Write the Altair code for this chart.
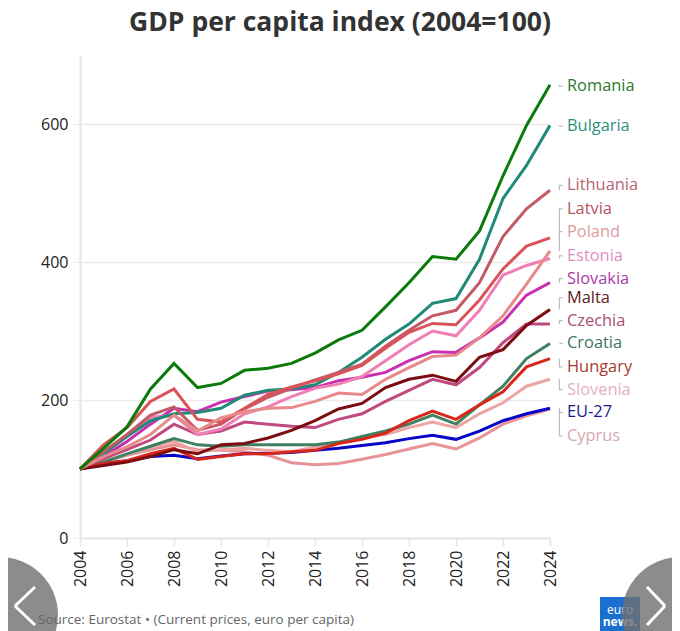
import altair as alt
import pandas as pd

years = list(range(2004, 2025))
order = ["Cyprus", "EU-27", "Slovenia", "Croatia", "Hungary", "Czechia", "Malta",
         "Slovakia", "Estonia", "Bulgaria", "Lithuania", "Latvia", "Poland", "Romania"]
series = {
    "Romania":   [100,130,161,216,253,218,224,243,246,253,268,287,301,335,370,408,404,445,525,598,657],
    "Bulgaria":  [100,122,147,170,180,182,188,207,214,216,222,240,262,288,310,340,347,404,492,540,598],
    "Lithuania": [100,125,150,178,190,156,165,187,204,217,229,240,252,278,301,322,330,370,437,477,504],
    "Latvia":    [100,135,160,198,216,172,168,188,208,219,228,238,250,275,298,311,309,345,390,423,435],
    "Estonia":   [100,125,148,175,178,150,158,180,190,205,217,223,234,257,280,300,293,330,381,395,405],
    "Poland":    [100,118,132,150,178,155,174,183,188,189,198,210,208,230,247,263,265,290,322,368,416],
    "Slovakia":  [100,118,140,165,188,183,197,205,213,215,218,228,233,240,257,270,269,290,313,352,370],
    "Malta":     [100,105,110,118,128,122,135,137,145,156,170,187,195,218,230,236,227,262,273,308,331],
    "Czechia":   [100,115,128,142,165,150,155,168,165,162,160,172,180,198,214,230,222,247,283,310,310],
    "Croatia":   [100,110,122,133,144,135,133,135,135,135,135,139,147,155,165,178,165,193,220,260,282],
    "Hungary":   [100,108,112,122,130,114,118,122,122,125,127,137,143,152,170,184,172,193,212,248,260],
    "Slovenia":  [100,112,120,132,140,125,128,130,127,125,132,138,146,150,160,168,160,180,196,220,230],
    "EU-27":     [100,108,112,118,120,115,119,122,123,124,127,130,134,138,144,149,143,155,170,180,188],
    "Cyprus":    [100,110,120,128,135,128,127,125,120,109,106,108,114,121,129,137,129,145,165,177,187],
}
line_colors = {
    "Romania": "#0b7a0b", "Bulgaria": "#1f8a76", "Lithuania": "#c25b66", "Latvia": "#d9545a",
    "Estonia": "#f07fb5", "Poland": "#e88a8a", "Slovakia": "#c92fb0", "Malta": "#7a0c12",
    "Czechia": "#c04a80", "Croatia": "#3f8060", "Hungary": "#d9261a", "Slovenia": "#eba5a5",
    "EU-27": "#0606c8", "Cyprus": "#e89398",
}
label_names = ["Romania", "Bulgaria", "Lithuania", "Latvia", "Poland", "Estonia", "Slovakia",
               "Malta", "Czechia", "Croatia", "Hungary", "Slovenia", "EU-27", "Cyprus"]
label_pos = [655, 597, 511, 477, 444, 409, 376, 348, 315, 282, 248, 215, 182, 148]
label_colors = ["#2d7a2d", "#2f8f7e", "#b9646f", "#b9525f", "#dd9ba0", "#dd90c0", "#a83ba8",
                "#5e1a20", "#a94f7a", "#3f7560", "#a83a30", "#e3b0bb", "#1a1a8c", "#d8a8b0"]

FONT = "Open Sans"
rows = [{"year": y, "country": c, "value": v}
        for c in order for y, v in zip(years, series[c])]
df = pd.DataFrame(rows)
lab = pd.DataFrame({"country": label_names, "pos": label_pos, "col": label_colors,
                    "year": [2024] * len(label_names)})
conn = []
for n, p in zip(label_names, label_pos):
    conn += [{"country": n, "i": 0, "x": 2024.40, "v": series[n][-1]},
             {"country": n, "i": 1, "x": 2024.40, "v": p},
             {"country": n, "i": 2, "x": 2024.54, "v": p}]
conn = pd.DataFrame(conn)

xs = alt.Scale(domain=[2004, 2024], nice=False, zero=False)
ys = alt.Scale(domain=[0, 700], nice=False)

lines = alt.Chart(df).mark_line(strokeWidth=3, strokeJoin="miter", clip=False).encode(
    x=alt.X("year:Q", scale=xs, title=None,
            axis=alt.Axis(values=years[::2], format="d", labelAngle=270, labelFontSize=16,
                          labelFont=FONT, labelColor="#222", grid=False, domainColor="#e6e6e6",
                          domainWidth=2, tickColor="#e6e6e6", tickSize=8, tickWidth=1.5,
                          labelPadding=4)),
    y=alt.Y("value:Q", scale=ys, title=None,
            axis=alt.Axis(values=[0, 200, 400, 600], labelFontSize=16, labelFont=FONT,
                          labelColor="#222", gridColor="#ececec", gridWidth=1.5,
                          domainColor="#e6e6e6", domainWidth=2, tickColor="#ececec", tickSize=7,
                          labelPadding=5)),
    color=alt.Color("country:N", legend=None,
                    scale=alt.Scale(domain=order, range=[line_colors[c] for c in order])),
    order="year:Q",
)

connectors = alt.Chart(conn).mark_line(strokeWidth=1.2, color="#bdbdbd", clip=False).encode(
    x=alt.X("x:Q", scale=xs), y=alt.Y("v:Q", scale=ys), detail="country:N", order="i:Q")

labels = alt.Chart(lab).mark_text(align="left", baseline="middle", dx=17, fontSize=16.4, font=FONT).encode(
    x=alt.X("year:Q", scale=xs), y=alt.Y("pos:Q", scale=ys), text="country:N",
    color=alt.Color("col:N", scale=None))


def px(x):
    return x - 80


def py(y):
    return y - 55


def circle(cx):
    return alt.Chart().mark_point(filled=True, size=13456, color="#6f6f6f", opacity=0.8,
                                  strokeWidth=0).encode(x=alt.value(px(cx)), y=alt.value(py(615)))


def seg(x1, y1, x2, y2):
    return alt.Chart().mark_rule(color="white", strokeWidth=3).encode(
        x=alt.value(px(x1)), x2=alt.value(px(x2)), y=alt.value(py(y1)), y2=alt.value(py(y2)))


def txt(s, x, y, **kw):
    return alt.Chart().mark_text(text=s, **kw).encode(x=alt.value(px(x)), y=alt.value(py(y)))


logo = alt.Chart().mark_rect(color="#1a6fd0").encode(
    x=alt.value(px(600)), x2=alt.value(px(640)), y=alt.value(py(597)), y2=alt.value(py(631)))

chart = alt.layer(
    lines, connectors, labels,
    logo,
    txt("euro", 620, 610, color="white", fontSize=12, font=FONT, align="center", baseline="middle"),
    txt("news.", 620, 622, color="white", fontSize=12, font=FONT, fontWeight="bold", align="center", baseline="middle"),
    circle(0), circle(680),
    seg(35, 587, 15, 606), seg(15, 606, 35, 625),
    seg(647, 587, 665, 606), seg(665, 606, 647, 625),
    txt("Source: Eurostat • (Current prices, euro per capita)", 38, 620, color="#666", fontSize=13.5,
        font=FONT, align="left", baseline="middle"),
).properties(
    width=470, height=483,
    title=alt.TitleParams("GDP per capita index (2004=100)", font=FONT, fontSize=26.5, fontWeight="bold",
                          color="#333", anchor="middle", frame="group", dx=25, offset=19),
    autosize=alt.AutoSizeParams(type="none"),
    padding={"left": 72, "top": 47, "right": 122, "bottom": 93},
).configure_view(stroke=None).resolve_scale(color="independent")

chart.save("out.html", embed_options={"renderer": "svg", "actions": False})
